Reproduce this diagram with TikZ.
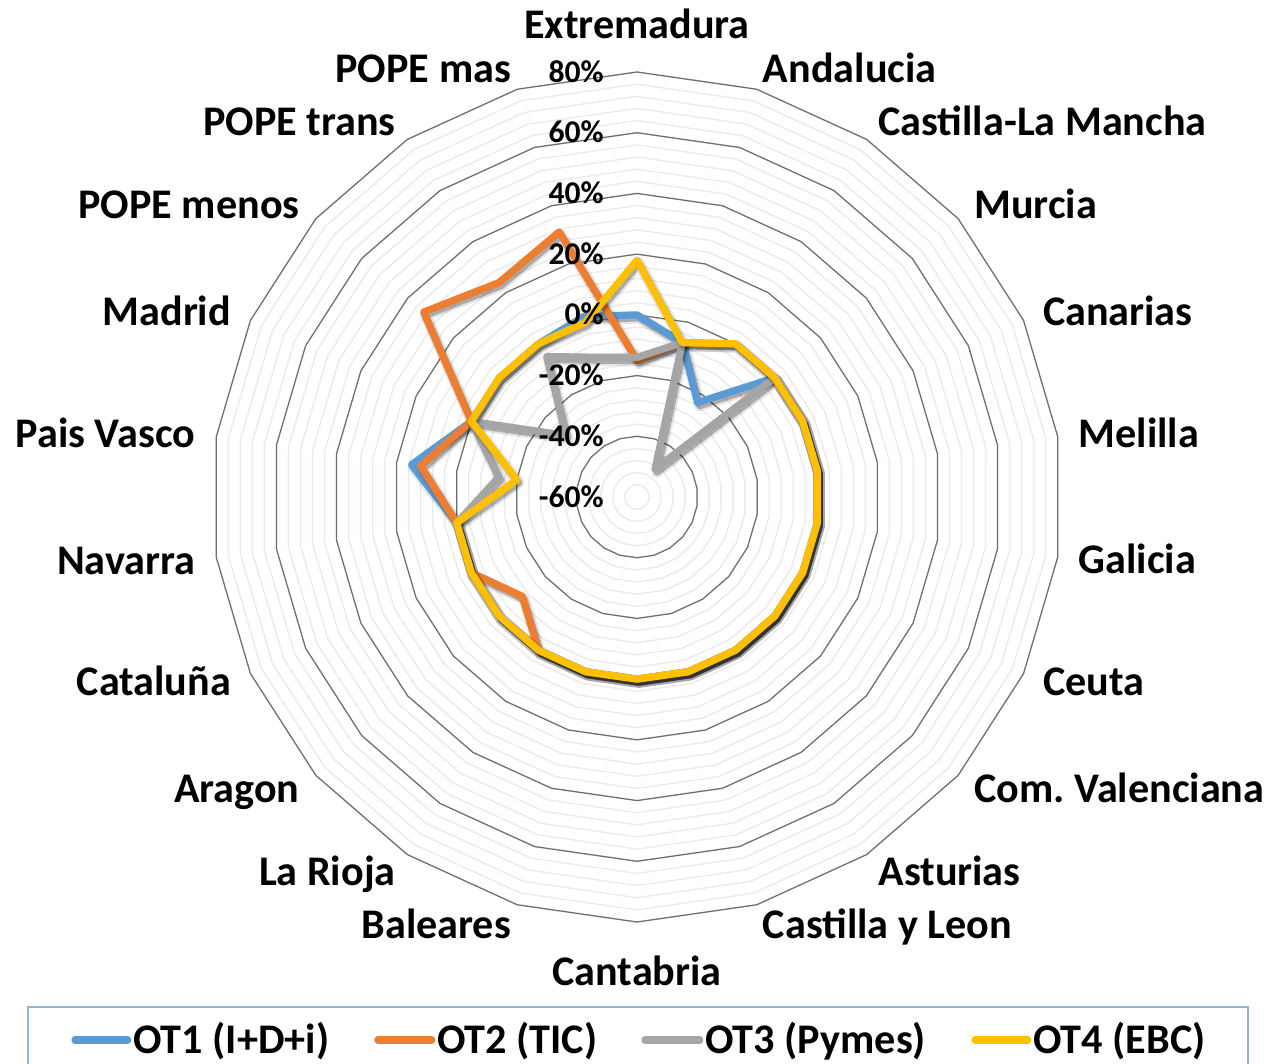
\documentclass[tikz,border=0pt]{standalone}
\usepackage{fontspec}
\setmainfont{Carlito}
\definecolor{otblue}{HTML}{5B9BD5}
\definecolor{otorange}{HTML}{ED7D31}
\definecolor{otgray}{HTML}{A5A5A5}
\definecolor{otyellow}{HTML}{FFC000}
\definecolor{gridmajor}{HTML}{6E6E6E}
\definecolor{gridminor}{HTML}{EBEBEB}
\definecolor{legframe}{HTML}{8FB4DE}

\newcommand\radscale{3.0357}
% one series: colour, first value, remaining 21 values
\newcommand\radarline[3]{%
  \draw[shadowline, line width=6.5pt, opacity=.1] (90:{(#2+60)*\radscale}) \foreach \v [count=\k] in {#3} { -- ({90-\k*360/22}:{(\v+60)*\radscale}) } -- cycle;
  \draw[shadowline] (90:{(#2+60)*\radscale}) \foreach \v [count=\k] in {#3} { -- ({90-\k*360/22}:{(\v+60)*\radscale}) } -- cycle;
  \draw[serie, #1] (90:{(#2+60)*\radscale}) \foreach \v [count=\k] in {#3} { -- ({90-\k*360/22}:{(\v+60)*\radscale}) } -- cycle;
}

\begin{document}
\frenchspacing
\begin{tikzpicture}[x=0.02cm,y=0.02cm,
  minorring/.style={gridminor, line width=0.8pt},
  majorring/.style={gridmajor, line width=0.7pt},
  serie/.style={line width=4.1pt, line join=round},
  shadowline/.style={black, opacity=.25, line width=4.1pt, line join=round, shift={(2,-3)}},
  catlabel/.style={inner sep=0pt, text height=15.4pt, text depth=0pt, font=\fontsize{24}{28}\selectfont\bfseries},
  pctlabel/.style={inner sep=0pt, anchor=east, text height=11.5pt, text depth=0pt, font=\fontsize{18}{22}\selectfont\bfseries},
  legline/.style={line width=4.1pt, line cap=round}]
\fill[white] (-637,-566) rectangle (635,497);
\useasboundingbox (-637,-566) rectangle (635,497);

\foreach \i in {1,...,35} {
  \draw[minorring] (90:{\i*4*\radscale}) \foreach \k in {1,...,21} { -- ({90-\k*360/22}:{\i*4*\radscale}) } -- cycle;
}
\foreach \i in {1,...,7} {
  \draw[majorring] (90:{\i*20*\radscale}) \foreach \k in {1,...,21} { -- ({90-\k*360/22}:{\i*20*\radscale}) } -- cycle;
}

\radarline{otblue}{0}{-7,-23, 0,0,0,0,0, 0,0,0,0,0, 0,0,0,0, 15,0,0,0,2}
\radarline{otorange}{-15}{-7, 0,0,0,0,0, 0,0,0,0,0, 0,0, -10,0,0,12,0,33,24,31}
\radarline{otgray}{-14}{-7,-49, 0,0,0,0,0, 0,0,0,0,0, 0,0,0,0, -14,0,-29,-5,-12}
\radarline{otyellow}{18}{-7, 0,0,0,0,0, 0,0,0,0,0, 0,0,0,0,0, -20,0,0,0,0}

\foreach \p [count=\i] in {-60,-40,...,80}
  \node[pctlabel] (pct\i) at (-33,{(\p+60)*\radscale}) {\p\%};

\foreach \lab [count=\k from 0] in {Extremadura, Andalucia, Castilla-La Mancha, Murcia, Canarias, Melilla, Galicia, Ceuta, Com. Valenciana, Asturias, Castilla y Leon, Cantabria, Baleares, La Rioja, Aragon, Cataluña, Navarra, Pais Vasco, Madrid, POPE menos, POPE trans, POPE mas} {
  \pgfmathsetmacro\ang{90-\k*360/22}
  \ifnum\k=0 \node[catlabel] (cat\k) at (\ang:472) {\lab};
  \else\ifnum\k=11 \node[catlabel] (cat\k) at (\ang:475) {\lab};
  \else\ifnum\k<11 \node[catlabel, anchor=west] (cat\k) at (\ang:446) {\lab};
  \else \node[catlabel, anchor=east] (cat\k) at (\ang:446) {\lab};
  \fi\fi\fi
}

% legend
\draw[legframe, line width=0.8pt] (-609,-510) rectangle (611,-620);
\node[catlabel, anchor=west] (leg1) at (-504,-543) {OT1 (I+D+i)};
\node[catlabel, anchor=west] (leg2) at (-200,-543) {OT2 (TIC)};
\node[catlabel, anchor=west] (leg3) at (68,-543) {OT3 (Pymes)};
\node[catlabel, anchor=west] (leg4) at (396,-543) {OT4 (EBC)};
\coordinate (s1) at (-562,-543);
\coordinate (s2) at (-259,-543);
\coordinate (s3) at (8,-543);
\coordinate (s4) at (338,-543);
\draw[legline, otblue] (s1) -- ([xshift=-3]leg1.west);
\draw[legline, otorange] (s2) -- ([xshift=-3]leg2.west);
\draw[legline, otgray] (s3) -- ([xshift=-3]leg3.west);
\draw[legline, otyellow] (s4) -- ([xshift=-3]leg4.west);
\end{tikzpicture}
\end{document}
